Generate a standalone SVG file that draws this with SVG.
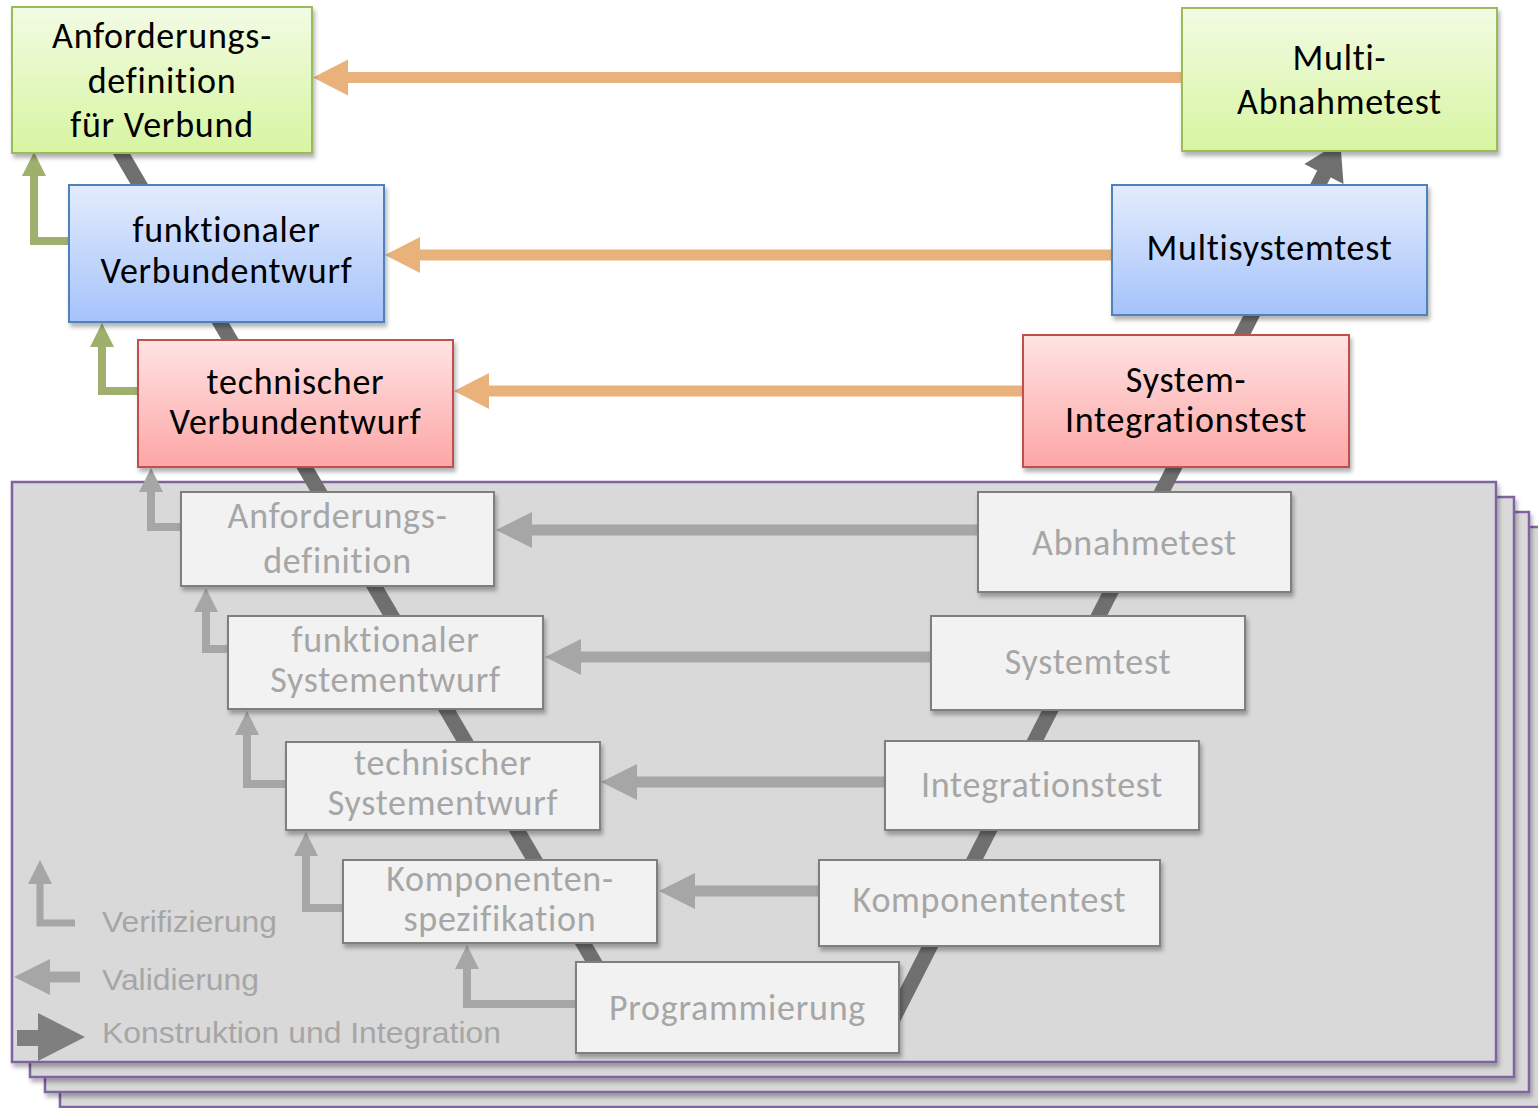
<svg xmlns="http://www.w3.org/2000/svg" width="1538" height="1108" viewBox="0 0 1538 1108">
  <defs>
    <style>
      .layer{fill:#D9D9D9;stroke:#8064A2;stroke-width:2.5;filter:url(#shadow)}
      .box{filter:url(#shadow);stroke-width:2}
      .green{fill:url(#gGreen);stroke:#9BBB59}
      .blue{fill:url(#gBlue);stroke:#4F81BD}
      .red{fill:url(#gRed);stroke:#C0504D}
      .gray{fill:#F2F2F2;stroke:#7F7F7F}
      .lbl{font-family:Carlito,Lato,"Liberation Sans",sans-serif;font-size:36px;letter-spacing:0.75px;text-anchor:middle}
      .dark{fill:#000}
      .light{fill:#A6A6A6}
      .orange{stroke:#E9B27B;stroke-width:11;fill:none;marker-end:url(#headOrange)}
      .valid{stroke:#A6A6A6;stroke-width:11;fill:none;marker-end:url(#headValid)}
      .verG{stroke:#9EAF6E;stroke-width:8;fill:none;marker-end:url(#headVerG)}
      .verY{stroke:#A6A6A6;stroke-width:8;fill:none;marker-end:url(#headVerY)}
      .vline{stroke:#6F6F6F;stroke-width:15;fill:none;stroke-linejoin:round;marker-end:url(#headV)}
      .legend{font-family:"Liberation Sans",Arial,sans-serif;font-size:30px;fill:#A6A6A6}
    </style>
    <filter id="shadow" x="-5%" y="-5%" width="115%" height="125%">
      <feDropShadow dx="2" dy="4" stdDeviation="2" flood-color="#000" flood-opacity="0.3"/>
    </filter>
    <linearGradient id="gGreen" x1="0" y1="0" x2="0" y2="1">
      <stop offset="0" stop-color="#F2FBE4"/>
      <stop offset="1" stop-color="#D7F5A1"/>
    </linearGradient>
    <linearGradient id="gBlue" x1="0" y1="0" x2="0" y2="1">
      <stop offset="0" stop-color="#E3ECFD"/>
      <stop offset="1" stop-color="#A5C3FA"/>
    </linearGradient>
    <linearGradient id="gRed" x1="0" y1="0" x2="0" y2="1">
      <stop offset="0" stop-color="#FFE3E3"/>
      <stop offset="1" stop-color="#FDA6A6"/>
    </linearGradient>
    <marker id="headOrange" markerUnits="userSpaceOnUse" viewBox="-2 -20 40 40" markerWidth="40" markerHeight="40" refX="0" refY="0" orient="auto">
      <path d="M-1,-18 L34,0 L-1,18 Z" fill="#E9B27B"/>
    </marker>
    <marker id="headValid" markerUnits="userSpaceOnUse" viewBox="-2 -20 40 40" markerWidth="40" markerHeight="40" refX="0" refY="0" orient="auto">
      <path d="M-1,-18 L35,0 L-1,18 Z" fill="#A6A6A6"/>
    </marker>
    <marker id="headVerG" markerUnits="userSpaceOnUse" viewBox="-2 -14 28 28" markerWidth="28" markerHeight="28" refX="0" refY="0" orient="auto">
      <path d="M-1,-12 L23,0 L-1,12 Z" fill="#9EAF6E"/>
    </marker>
    <marker id="headVerY" markerUnits="userSpaceOnUse" viewBox="-2 -14 28 28" markerWidth="28" markerHeight="28" refX="0" refY="0" orient="auto">
      <path d="M-1,-12 L23,0 L-1,12 Z" fill="#A6A6A6"/>
    </marker>
    <marker id="headV" markerUnits="userSpaceOnUse" viewBox="-2 -24 40 48" markerWidth="40" markerHeight="48" refX="0" refY="0" orient="auto">
      <path d="M-1,-22 L35,0 L-1,22 Z" fill="#6F6F6F"/>
    </marker>
  </defs>

  <!-- stacked system layers, back to front -->
  <g id="layers">
    <rect class="layer" x="60" y="527" width="1484" height="580"/>
    <rect class="layer" x="45" y="512" width="1484" height="580"/>
    <rect class="layer" x="30" y="497" width="1484" height="580"/>
    <rect class="layer" x="12" y="482" width="1484" height="580"/>
  </g>

  <g id="connectors">
    <!-- V path: construction down the left leg, integration up the right leg -->
    <path class="vline" d="M90,100 L631,1025 L890,1025 L1324.4,173"/>
    <!-- validation, compound level -->
    <path class="orange" d="M1182,77.5 H347"/>
    <path class="orange" d="M1112,255 H419"/>
    <path class="orange" d="M1023,391 H488"/>
    <!-- validation, system level -->
    <path class="valid" d="M978,530 H531"/>
    <path class="valid" d="M931,657 H580"/>
    <path class="valid" d="M885,782 H636"/>
    <path class="valid" d="M819,891 H694"/>
    <!-- verification -->
    <path class="verG" d="M69,241 H34 V175"/>
    <path class="verG" d="M138,391 H102 V346"/>
    <path class="verY" d="M181,527 H151 V491"/>
    <path class="verY" d="M228,649 H206 V611"/>
    <path class="verY" d="M286,784 H247 V734"/>
    <path class="verY" d="M343,908 H306 V855"/>
    <path class="verY" d="M576,1004 H467 V968"/>
  </g>

  <!-- compound level -->
  <g id="anforderungsdefinition-verbund">
    <rect class="box green" x="12" y="7" width="300" height="146"/>
    <text class="lbl dark" x="162" y="48">Anforderungs-</text>
    <text class="lbl dark" x="162" y="93">definition</text>
    <text class="lbl dark" x="162" y="137">für Verbund</text>
  </g>
  <g id="funktionaler-verbundentwurf">
    <rect class="box blue" x="69" y="185" width="315" height="137"/>
    <text class="lbl dark" x="226.5" y="242">funktionaler</text>
    <text class="lbl dark" x="226.5" y="283">Verbundentwurf</text>
  </g>
  <g id="technischer-verbundentwurf">
    <rect class="box red" x="138" y="340" width="315" height="127"/>
    <text class="lbl dark" x="295.5" y="394">technischer</text>
    <text class="lbl dark" x="295.5" y="434">Verbundentwurf</text>
  </g>
  <g id="multi-abnahmetest">
    <rect class="box green" x="1182" y="8" width="315" height="143"/>
    <text class="lbl dark" x="1339.5" y="70">Multi-</text>
    <text class="lbl dark" x="1339.5" y="114">Abnahmetest</text>
  </g>
  <g id="multisystemtest">
    <rect class="box blue" x="1112" y="185" width="315" height="130"/>
    <text class="lbl dark" x="1269.5" y="260">Multisystemtest</text>
  </g>
  <g id="system-integrationstest">
    <rect class="box red" x="1023" y="335" width="326" height="132"/>
    <text class="lbl dark" x="1186" y="392">System-</text>
    <text class="lbl dark" x="1186" y="432">Integrationstest</text>
  </g>

  <!-- system level -->
  <g id="anforderungsdefinition">
    <rect class="box gray" x="181" y="492" width="313" height="94"/>
    <text class="lbl light" x="337.5" y="528">Anforderungs-</text>
    <text class="lbl light" x="337.5" y="573">definition</text>
  </g>
  <g id="abnahmetest">
    <rect class="box gray" x="978" y="492" width="313" height="100"/>
    <text class="lbl light" x="1134.5" y="555">Abnahmetest</text>
  </g>
  <g id="funktionaler-systementwurf">
    <rect class="box gray" x="228" y="616" width="315" height="93"/>
    <text class="lbl light" x="385.5" y="652">funktionaler</text>
    <text class="lbl light" x="385.5" y="692">Systementwurf</text>
  </g>
  <g id="systemtest">
    <rect class="box gray" x="931" y="616" width="314" height="94"/>
    <text class="lbl light" x="1088" y="674">Systemtest</text>
  </g>
  <g id="technischer-systementwurf">
    <rect class="box gray" x="286" y="742" width="314" height="88"/>
    <text class="lbl light" x="443" y="775">technischer</text>
    <text class="lbl light" x="443" y="815">Systementwurf</text>
  </g>
  <g id="integrationstest">
    <rect class="box gray" x="885" y="741" width="314" height="89"/>
    <text class="lbl light" x="1042" y="797">Integrationstest</text>
  </g>
  <g id="komponentenspezifikation">
    <rect class="box gray" x="343" y="860" width="314" height="83"/>
    <text class="lbl light" x="500" y="891">Komponenten-</text>
    <text class="lbl light" x="500" y="931">spezifikation</text>
  </g>
  <g id="komponententest">
    <rect class="box gray" x="819" y="860" width="341" height="86"/>
    <text class="lbl light" x="989.5" y="912">Komponententest</text>
  </g>
  <g id="programmierung">
    <rect class="box gray" x="576" y="962" width="323" height="91"/>
    <text class="lbl light" x="737.5" y="1020">Programmierung</text>
  </g>

  <!-- legend -->
  <g id="legend">
    <path class="verY" d="M75,923 H40 V883" style="stroke-width:7"/>
    <path class="valid" d="M80,977 H49"/>
    <path d="M17,1030 H38 V1013 L85,1037 L38,1061 V1046 H17 Z" fill="#7F7F7F"/>
    <text class="legend" x="102" y="932" textLength="175" lengthAdjust="spacingAndGlyphs">Verifizierung</text>
    <text class="legend" x="102" y="990" textLength="157" lengthAdjust="spacingAndGlyphs">Validierung</text>
    <text class="legend" x="102" y="1043" textLength="399" lengthAdjust="spacingAndGlyphs">Konstruktion und Integration</text>
  </g>
</svg>
